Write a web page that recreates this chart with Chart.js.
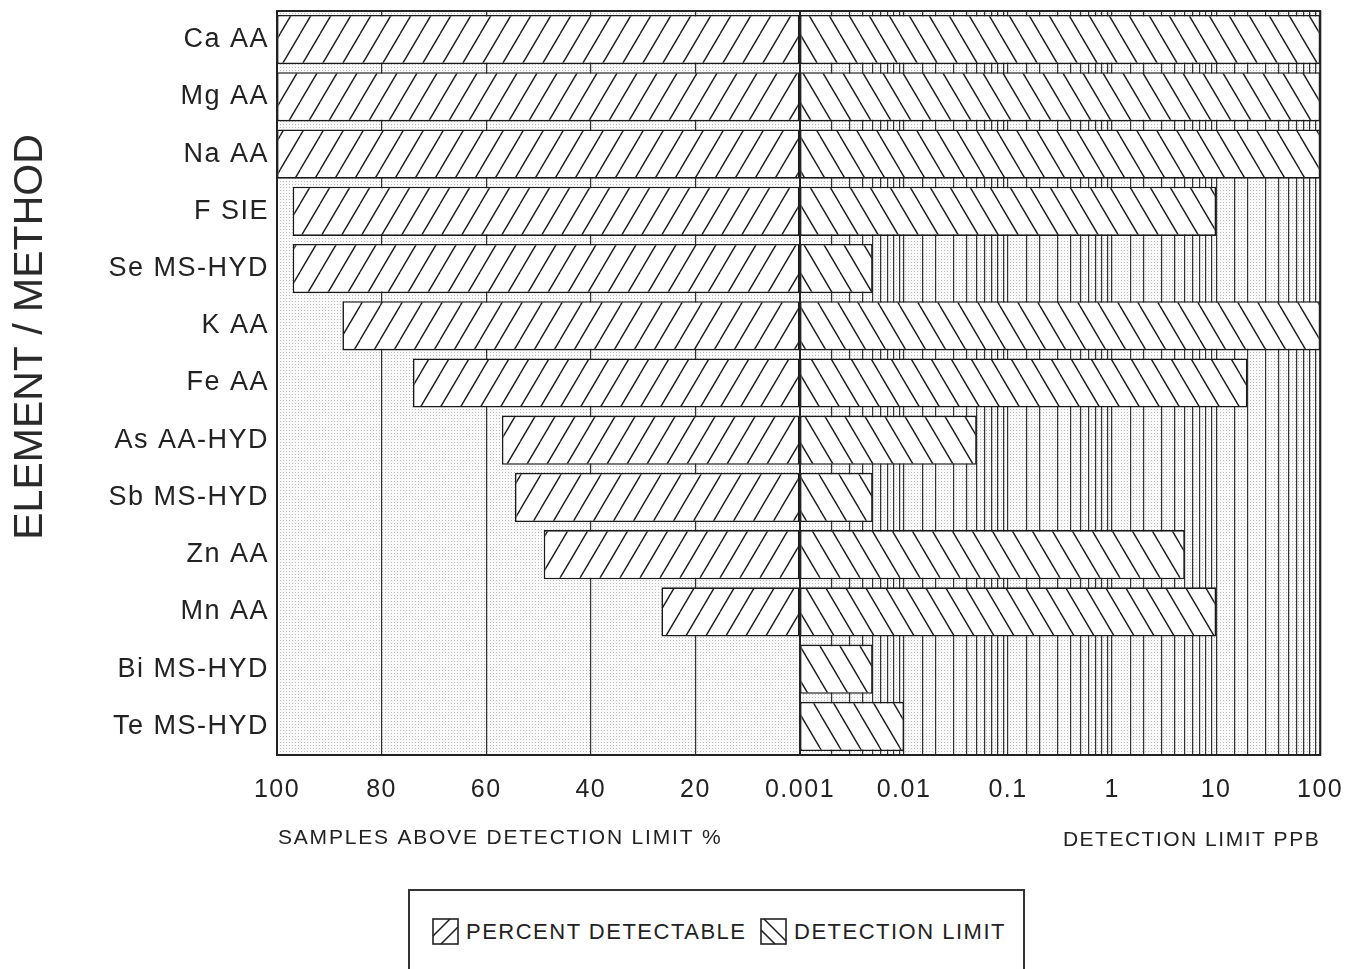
<!DOCTYPE html>
<html>
<head>
<meta charset="utf-8">
<title>Element / Method detection</title>
<script src="https://cdn.jsdelivr.net/npm/chart.js@4.4.1/dist/chart.umd.min.js"></script>
<style>
  body { margin: 0; background: #fff; overflow: hidden; }
  .wrap { position: relative; width: 1356px; height: 969px; overflow: hidden; }
  .wrap canvas.chart { position: absolute; top: 0; }
  #left-chart { left: 0; }
  #right-chart { left: 700px; }
  .legend {
    position: absolute; left: 408px; top: 889px; width: 617px; height: 110px;
    border: 2px solid #333; box-sizing: border-box;
    font-family: "Liberation Sans", Arial, sans-serif; font-size: 22px;
    letter-spacing: 1.5px; color: #222;
  }
  .legend .item { position: absolute; top: 27px; display: flex; align-items: center; }
  .legend .item canvas { margin-right: 7px; }
</style>
</head>
<body>
<div class="wrap">
  <canvas class="chart" id="left-chart" width="820" height="870"></canvas>
  <canvas class="chart" id="right-chart" width="661" height="870"></canvas>
  <div class="legend">
    <div class="item" style="left: 22px"><canvas id="swatch-pct" width="27" height="27"></canvas><span>PERCENT DETECTABLE</span></div>
    <div class="item" style="left: 350px"><canvas id="swatch-lim" width="27" height="27"></canvas><span>DETECTION LIMIT</span></div>
  </div>
</div>

<script>
// Data
const categories = [
  "Ca AA", "Mg AA", "Na AA", "F SIE", "Se MS-HYD", "K AA", "Fe AA",
  "As AA-HYD", "Sb MS-HYD", "Zn AA", "Mn AA", "Bi MS-HYD", "Te MS-HYD",
];
const percentDetectable = [100, 100, 100, 97, 97, 87.5, 74, 57, 54.5, 49, 26.5, 0, 0];
const detectionLimit = [100, 100, 100, 10, 0.005, 100, 20, 0.05, 0.005, 5, 10, 0.005, 0.01];
const percentTicks = [100, 80, 60, 40, 20];
const limitTicks = [0.001, 0.01, 0.1, 1, 10, 100];
const yTitle = "ELEMENT / METHOD";
const percentTitle = "SAMPLES ABOVE DETECTION LIMIT %";
const limitTitle = "DETECTION LIMIT PPB";
// End Data

Chart.defaults.font.family = '"Liberation Sans", Arial, sans-serif';
Chart.defaults.color = "#222";

// Patterns
const makeHatch = (ctx, dir) => {
  const w = 20, h = 34;
  const tile = document.createElement("canvas");
  tile.width = w;
  tile.height = h;
  const g = tile.getContext("2d");
  g.fillStyle = "#fff";
  g.fillRect(0, 0, w, h);
  g.strokeStyle = "#1c1c1c";
  g.lineWidth = 1.4;
  [-w, 0, w].forEach((off) => {
    g.beginPath();
    if (dir === "/") {
      g.moveTo(off, h);
      g.lineTo(off + w, 0);
    } else {
      g.moveTo(off, 0);
      g.lineTo(off + w, h);
    }
    g.stroke();
  });
  return ctx.createPattern(tile, "repeat");
};

const makeDots = (ctx) => {
  const tile = document.createElement("canvas");
  tile.width = 3;
  tile.height = 3;
  const g = tile.getContext("2d");
  g.fillStyle = "#fafafa";
  g.fillRect(0, 0, 3, 3);
  g.fillStyle = "#bdbdbd";
  g.fillRect(1, 1, 1, 1);
  return ctx.createPattern(tile, "repeat");
};
// End Patterns

// Plot box plugin: dotted paper inside, frame on top
const plotBox = {
  id: "plotBox",
  beforeDraw(chart) {
    const { ctx, chartArea: a } = chart;
    ctx.save();
    ctx.fillStyle = makeDots(ctx);
    ctx.fillRect(a.left, a.top, a.width, a.height);
    ctx.restore();
    ctx.letterSpacing = "1.5px";
  },
  afterDatasetsDraw(chart) {
    const { ctx, chartArea: a } = chart;
    ctx.save();
    ctx.strokeStyle = "#222";
    ctx.lineWidth = 2;
    ctx.strokeRect(a.left, a.top, a.width, a.height);
    ctx.restore();
  },
};

// Titles of the left chart (reversed axis, so drawn by hand)
const leftTitles = {
  id: "leftTitles",
  afterDraw(chart) {
    const { ctx, chartArea: a } = chart;
    ctx.save();
    ctx.fillStyle = "#222";
    ctx.textBaseline = "middle";
    ctx.letterSpacing = "1.8px";
    ctx.font = '21px "Liberation Sans", Arial, sans-serif';
    ctx.textAlign = "left";
    ctx.fillText(percentTitle, a.left + 1, 838);

    ctx.letterSpacing = "0px";
    ctx.translate(31, 337);
    ctx.rotate(-Math.PI / 2);
    ctx.font = '41px "Liberation Sans", Arial, sans-serif';
    ctx.fillStyle = "#2a2a2a";
    ctx.textAlign = "center";
    ctx.fillText(yTitle, 0, 0);
    ctx.restore();
  },
};

const gridStyle = {
  color: "#333",
  lineWidth: 1.2,
  drawTicks: false,
};

// Left Chart
const leftCanvas = document.querySelector("#left-chart");
if (leftCanvas) {
  const ctx = leftCanvas.getContext("2d");
  new Chart(leftCanvas, {
    type: "bar",
    data: {
      labels: categories,
      datasets: [
        {
          label: "PERCENT DETECTABLE",
          data: percentDetectable,
          backgroundColor: makeHatch(ctx, "/"),
          borderColor: "#1a1a1a",
          borderWidth: 1.6,
          borderSkipped: false,
          barPercentage: 1,
          categoryPercentage: 0.86,
        },
      ],
    },
    options: {
      indexAxis: "y",
      responsive: false,
      animation: false,
      layout: { padding: { top: 11, right: 20, left: 0, bottom: 0 } },
      plugins: { legend: { display: false }, tooltip: { enabled: false } },
      scales: {
        x: {
          min: 0,
          max: 100,
          reverse: true,
          afterBuildTicks: (scale) => {
            scale.ticks = percentTicks.concat(0).map((v) => ({ value: v }));
          },
          ticks: {
            callback: (v) => (v === 0 ? "" : v),
            font: { size: 25 },
            padding: 20,
            maxRotation: 0,
            autoSkip: false,
          },
          grid: gridStyle,
          border: { display: false },
          afterFit: (scale) => {
            scale.height = 115;
          },
        },
        y: {
          ticks: { font: { size: 27 }, padding: 8 },
          grid: { display: false, drawTicks: false },
          border: { display: false },
          afterFit: (scale) => {
            scale.width = 277;
            scale.paddingTop = 0;
            scale.paddingBottom = 0;
          },
        },
      },
    },
    plugins: [plotBox, leftTitles],
  });
}
// End Left Chart

// Right Chart
const rightCanvas = document.querySelector("#right-chart");
if (rightCanvas) {
  const ctx = rightCanvas.getContext("2d");
  new Chart(rightCanvas, {
    type: "bar",
    data: {
      labels: categories,
      datasets: [
        {
          label: "DETECTION LIMIT",
          data: detectionLimit,
          backgroundColor: makeHatch(ctx, "\\"),
          borderColor: "#1a1a1a",
          borderWidth: 1.6,
          borderSkipped: false,
          barPercentage: 1,
          categoryPercentage: 0.86,
        },
      ],
    },
    options: {
      indexAxis: "y",
      responsive: false,
      animation: false,
      layout: { padding: { top: 11, right: 31, left: 100, bottom: 0 } },
      plugins: { legend: { display: false }, tooltip: { enabled: false } },
      scales: {
        x: {
          type: "logarithmic",
          min: 0.001,
          max: 100,
          ticks: {
            callback: (v) => (limitTicks.some((t) => Math.abs(t - v) < t * 1e-6) ? String(v) : ""),
            font: { size: 25 },
            padding: 20,
            maxRotation: 0,
            autoSkip: false,
          },
          grid: gridStyle,
          border: { display: false },
          title: {
            display: true,
            text: limitTitle,
            align: "end",
            font: { size: 21 },
            padding: { top: 0, bottom: 17 },
          },
          afterFit: (scale) => {
            scale.height = 115;
          },
        },
        y: {
          display: false,
        },
      },
    },
    plugins: [plotBox],
  });
}
// End Right Chart

// Legend swatches
const drawSwatch = (id, dir) => {
  const c = document.querySelector(id);
  const g = c.getContext("2d");
  g.fillStyle = "#fff";
  g.fillRect(0, 0, 27, 27);
  g.strokeStyle = "#222";
  g.lineWidth = 1.6;
  g.strokeRect(1, 1, 25, 25);
  g.beginPath();
  if (dir === "/") {
    g.moveTo(1, 18); g.lineTo(18, 1);
    g.moveTo(9, 26); g.lineTo(26, 9);
  } else {
    g.moveTo(4, 1); g.lineTo(26, 23);
    g.moveTo(1, 12); g.lineTo(15, 26);
  }
  g.stroke();
};
drawSwatch("#swatch-pct", "/");
drawSwatch("#swatch-lim", "\\");
// End Legend swatches
</script>
</body>
</html>
